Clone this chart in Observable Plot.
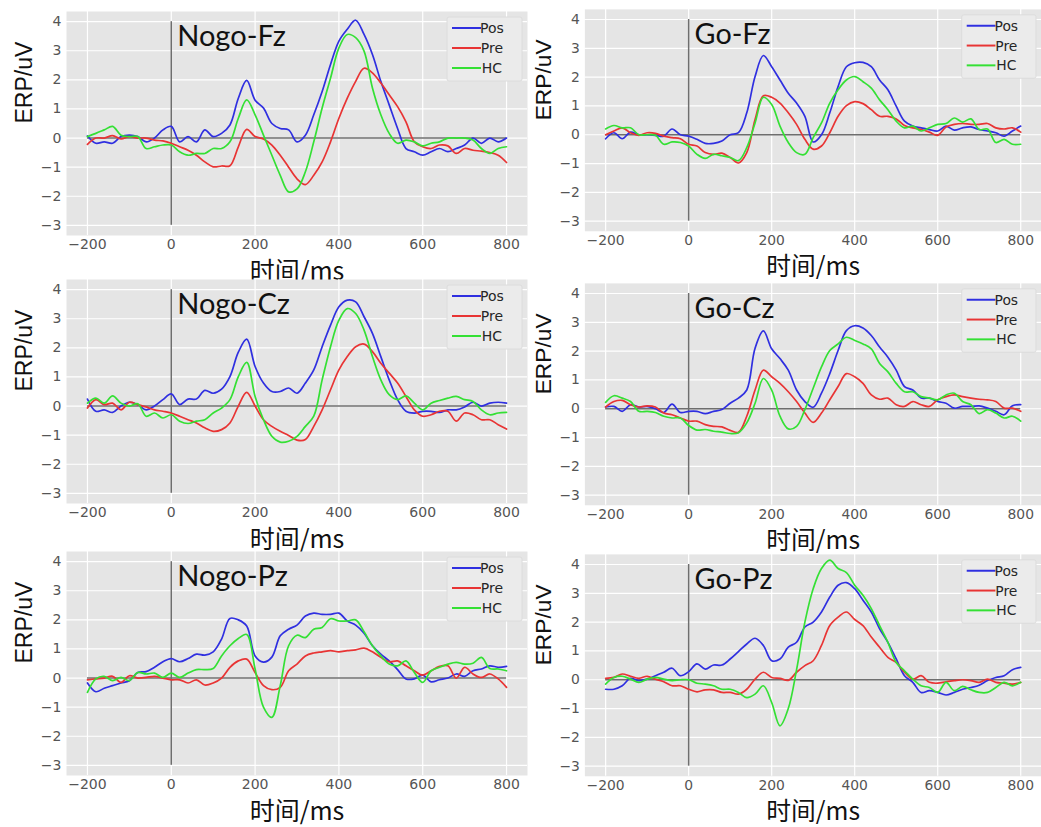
<!DOCTYPE html>
<html>
<head>
<meta charset="utf-8">
<script src="https://cdn.jsdelivr.net/npm/d3@7"></script>
<script src="https://cdn.jsdelivr.net/npm/@observablehq/plot@0.6"></script>
<style>
  html, body { margin: 0; padding: 0; background: #fff; overflow: hidden; }
  #wrap { position: relative; width: 1041px; height: 827px; overflow: hidden; }
  .panel { position: absolute; }
  .panel svg { overflow: visible; }
</style>
</head>
<body>
<div id="wrap"></div>
<script>
// ---- data ----
const times = d3.range(-200, 801, 20); // 51 samples, ms
const groups = ["Pos", "Pre", "HC"];
const colors = ["#2f2fe0", "#e83434", "#34e034"];
const xTicks = [-200, 0, 200, 400, 600, 800];
const yTicks = [-3, -2, -1, 0, 1, 2, 3, 4];
const panelTitles = ["Nogo-Fz", "Go-Fz", "Nogo-Cz", "Go-Cz", "Nogo-Pz", "Go-Pz"];
const xLabel = "时间/ms";
const yLabel = "ERP/uV";

const nogoFzPos = [0.07,-0.18,-0.13,-0.18,0.05,0.1,0.05,-0.13,0,0.28,
  0.4,-0.13,0.05,-0.13,0.28,0.05,0.16,0.45,1.37,1.98,
  1.3,1.03,0.5,0.33,0.28,-0.13,0.1,0.8,1.6,2.53,
  3.33,3.74,4.05,3.56,2.87,1.95,1.14,0.33,-0.36,-0.47,
  -0.59,-0.47,-0.36,-0.47,-0.36,-0.24,0,-0.18,0,-0.13,
  0];
const nogoFzPre = [-0.22,0,0,0.08,-0.03,0.05,0,0,-0.07,-0.1,
  -0.18,-0.3,-0.42,-0.59,-0.82,-0.99,-0.96,-0.95,-0.3,0.3,
  0.05,-0.03,-0.24,-0.59,-1.0,-1.4,-1.6,-1.28,-0.82,-0.13,
  0.68,1.37,1.95,2.4,2.24,1.89,1.49,1.08,0.56,-0.13,
  -0.3,-0.36,-0.24,-0.27,-0.53,-0.36,-0.42,-0.45,-0.5,-0.59,
  -0.84];
const nogoFzHC = [0.05,0.16,0.28,0.4,0.1,0.05,0.05,-0.36,-0.3,-0.24,
  -0.24,-0.47,-0.59,-0.53,-0.53,-0.36,-0.36,-0.13,0.68,1.31,
  0.8,0.1,-0.59,-1.28,-1.85,-1.75,-1.16,-0.13,1.03,2.06,
  3.1,3.56,3.45,2.99,1.72,0.8,0.16,-0.18,-0.07,-0.13,
  -0.27,-0.18,-0.13,0,0,0,-0.07,-0.36,-0.53,-0.36,
  -0.3];

const goFzPos = [-0.14,0.07,-0.14,0.09,0,0,-0.02,-0.05,0.2,0,
  -0.05,-0.16,-0.3,-0.3,-0.22,0,0.07,0.76,2.02,2.75,
  2.36,1.9,1.44,1.1,0.64,-0.25,0.0,0.76,1.67,2.36,
  2.5,2.51,2.36,1.9,1.56,0.99,0.47,0.3,0.24,0.18,
  0.13,0.3,0.16,0.24,0.27,0.18,0.13,0.07,-0.05,0.13,
  0.3];
const goFzPre = [0,0.13,0.24,0.07,-0.02,0.07,0.05,-0.05,-0.1,-0.14,
  -0.33,-0.39,-0.62,-0.68,-0.64,-0.79,-0.98,-0.62,0.53,1.35,
  1.3,1.1,0.76,0.36,-0.16,-0.5,-0.39,0.07,0.64,1.01,
  1.15,1.08,0.87,0.64,0.64,0.55,0.32,0.24,0.18,0.09,
  -0.02,0.27,0.36,0.39,0.36,0.36,0.39,0.24,0.2,0.24,
  0.09];
const goFzHC = [0.2,0.32,0.24,0.24,0,0,-0.02,-0.33,-0.25,-0.27,
  -0.39,-0.68,-0.82,-0.68,-0.73,-0.79,-0.9,-0.45,0.41,1.3,
  1.05,0.3,-0.27,-0.62,-0.68,-0.1,0.41,1.1,1.56,1.9,
  2.02,1.84,1.62,1.21,0.87,0.47,0.24,0.3,0.13,0.24,
  0.36,0.39,0.58,0.44,0.55,0.18,0.2,-0.27,-0.16,-0.33,
  -0.33];

const nogoCzPos = [0.24,-0.18,-0.13,-0.22,0,0.13,0.05,-0.13,0,0.22,
  0.42,0.05,0.24,0.24,0.54,0.44,0.58,1.01,1.85,2.3,
  1.36,0.79,0.5,0.5,0.62,0.44,0.79,1.24,2.04,2.78,
  3.41,3.64,3.58,3.07,2.5,1.7,0.9,0.22,-0.18,-0.24,
  -0.18,-0.18,-0.22,-0.13,-0.13,-0.03,0.13,0,0.1,0.13,
  0.1];
const nogoCzPre = [-0.07,0.22,0.05,0.1,-0.13,0.13,0.05,-0.03,-0.13,-0.18,
  -0.24,-0.35,-0.47,-0.58,-0.75,-0.87,-0.81,-0.58,0,0.47,
  0,-0.47,-0.7,-0.87,-1.01,-1.17,-1.15,-0.7,-0.13,0.56,
  1.24,1.7,2.04,2.13,1.87,1.47,1.13,0.79,0.33,-0.13,
  -0.35,-0.3,-0.18,-0.18,-0.52,-0.24,-0.3,-0.47,-0.47,-0.64,
  -0.79];
const nogoCzHC = [0.1,0.27,0.1,0.35,0.1,0,0.08,-0.35,-0.24,-0.41,
  -0.3,-0.52,-0.6,-0.52,-0.47,-0.24,-0.07,0.22,1.01,1.5,
  0.33,-0.47,-1.04,-1.24,-1.21,-1.04,-0.7,-0.35,0.9,2.04,
  2.95,3.35,3.18,2.61,1.7,0.9,0.39,0.22,0.35,0.1,
  -0.13,0.1,0.19,0.27,0.33,0.22,0.16,-0.13,-0.3,-0.24,
  -0.22];

const goCzPos = [0.06,0.08,-0.09,0.14,0.06,0.08,0,-0.13,0.16,-0.13,
  -0.09,-0.09,-0.17,-0.09,-0.03,0.19,0.37,0.65,2.1,2.7,
  2.08,1.74,1.34,0.65,0.25,0.05,0.54,1.22,2.02,2.71,
  2.88,2.8,2.54,2.14,1.79,1.34,0.77,0.65,0.37,0.37,
  0.25,0.19,0.02,0.08,0.08,0.1,0.02,-0.09,-0.21,0.1,
  0.14];
const goCzPre = [0.06,0.25,0.29,0.14,0.06,0.1,0.06,-0.15,-0.21,-0.32,
  -0.43,-0.43,-0.55,-0.61,-0.63,-0.75,-0.82,-0.26,0.65,1.34,
  1.11,0.88,0.59,0.25,-0.15,-0.47,-0.15,0.31,0.77,1.22,
  1.11,0.88,0.48,0.33,0.37,0.14,0.08,0.25,0.14,0.08,
  0.31,0.42,0.48,0.42,0.37,0.33,0.31,0.25,0.02,0.02,
  -0.09];
const goCzHC = [0.22,0.45,0.37,0.25,-0.09,-0.09,-0.13,-0.26,-0.32,-0.32,
  -0.58,-0.74,-0.72,-0.78,-0.81,-0.86,-0.83,-0.49,0.19,1.05,
  0.65,-0.26,-0.7,-0.61,-0.03,0.71,1.45,2.02,2.25,2.48,
  2.37,2.25,2.08,1.57,1.28,0.88,0.59,0.59,0.42,0.37,
  0.31,0.48,0.54,0.25,0.14,-0.17,-0.03,-0.15,-0.32,-0.26,
  -0.43];

const nogoPzPos = [-0.17,-0.47,-0.35,-0.26,-0.17,-0.09,0.19,0.22,0.37,0.56,
  0.67,0.56,0.67,0.82,0.79,0.9,1.34,2.05,2.0,1.79,
  0.76,0.55,0.72,1.45,1.68,1.82,2.13,2.23,2.19,2.19,
  2.23,1.96,1.82,1.54,1.11,0.82,0.59,0.29,-0.03,-0.03,
  0.1,-0.13,-0.06,0,0.14,0.06,0.25,0.31,0.42,0.37,
  0.4];
const nogoPzPre = [-0.06,-0.03,0,0.06,-0.15,0.08,0,0.02,0.06,0,
  -0.06,-0.06,-0.17,-0.06,-0.24,-0.17,0,0.37,0.59,0.65,
  0.19,-0.26,-0.4,-0.32,0.25,0.48,0.76,0.86,0.9,0.94,
  0.9,0.94,0.97,1.03,0.9,0.71,0.56,0.59,0.42,0.25,
  0.1,0.25,0.4,0.42,0.0,0.37,0.14,0.02,0.14,-0.03,
  -0.32];
const nogoPzHC = [-0.49,-0.03,0.06,-0.09,0.02,-0.09,0.19,0.14,0.17,0.02,
  0.17,0.02,0.17,0.29,0.29,0.33,0.76,1.11,1.36,1.5,
  0.31,-1.0,-1.35,-0.26,1.11,1.47,1.39,1.68,1.74,2.04,
  1.96,1.96,2.0,1.59,1.11,0.76,0.48,0.42,0.59,0.19,
  -0.15,0.25,0.37,0.48,0.54,0.48,0.51,0.71,0.33,0.31,
  0.25];

const goPzPos = [-0.33,-0.33,-0.21,0.05,-0.03,0.02,0.14,0.26,0.4,0.14,
  0.28,0.55,0.37,0.51,0.51,0.72,0.98,1.24,1.44,1.19,
  0.66,0.72,1.13,1.3,1.83,2.0,2.35,2.87,3.28,3.37,
  3.16,2.76,2.35,1.77,1.3,0.72,0.14,-0.09,-0.44,-0.38,
  -0.44,-0.53,-0.44,-0.33,-0.27,-0.19,-0.03,0.08,0.14,0.35,
  0.43];
const goPzPre = [0.05,0.08,0.2,0.12,0.05,0.12,0.02,-0.07,-0.21,-0.21,
  -0.33,-0.42,-0.35,-0.35,-0.44,-0.44,-0.5,-0.33,0.02,0.26,
  0.08,0.05,-0.02,0.26,0.49,0.66,1.19,1.88,2.17,2.35,
  2.09,1.88,1.48,1.13,0.78,0.6,0.26,0.02,0.14,-0.09,
  -0.12,-0.07,-0.03,0,-0.03,-0.09,0.02,-0.09,-0.12,-0.15,
  -0.09];
const goPzHC = [-0.15,0.08,0.12,0.02,-0.09,0.02,0.08,0.02,-0.03,0,
  0,-0.12,-0.15,-0.21,-0.33,-0.33,-0.44,-0.62,-0.5,-0.21,
  -0.79,-1.6,-1.0,0.35,2.0,3.16,3.86,4.15,3.86,3.72,
  3.28,2.93,2.47,1.88,1.3,0.6,0.31,0.02,-0.21,-0.27,
  -0.44,-0.09,-0.38,-0.23,-0.35,-0.44,-0.44,-0.27,-0.09,-0.21,
  -0.09];

const panelSeries = [
  [nogoFzPos, nogoFzPre, nogoFzHC],
  [goFzPos, goFzPre, goFzHC],
  [nogoCzPos, nogoCzPre, nogoCzHC],
  [goCzPos, goCzPre, goCzHC],
  [nogoPzPos, nogoPzPre, nogoPzHC],
  [goPzPos, goPzPre, goPzHC]
];

// ---- layout (page placement of each panel) ----
const panelPos = [
  {left: 0, top: 1}, {left: 519, top: -1},
  {left: 0, top: 269}, {left: 519, top: 272.5},
  {left: 0, top: 540.5}, {left: 519, top: 544}
];

function legendMark(index, scales, values, dims) {
  const right = dims.width - dims.marginRight;
  const top = dims.marginTop;
  const g = d3.create("svg:g");
  g.append("rect")
    .attr("x", right - 80).attr("y", top + 6)
    .attr("width", 75).attr("height", 64)
    .attr("rx", 2)
    .attr("fill", "#ebebeb").attr("stroke", "#dcdcdc").attr("stroke-width", 1);
  groups.forEach((name, i) => {
    const y = top + 17 + i * 20;
    g.append("line")
      .attr("x1", right - 75).attr("x2", right - 46)
      .attr("y1", y).attr("y2", y)
      .attr("stroke", colors[i]).attr("stroke-width", 2);
    g.append("text")
      .attr("x", right - 35).attr("y", y)
      .attr("dominant-baseline", "central")
      .attr("font-family", "DejaVu Sans, sans-serif")
      .attr("font-size", 14)
      .attr("fill", "#262626")
      .text(name);
  });
  return g.node();
}

function makePanel(k) {
  const data = [];
  groups.forEach((g, gi) => {
    times.forEach((t, i) => data.push({t, v: panelSeries[k][gi][i], g}));
  });
  return Plot.plot({
    width: 527,
    height: 271,
    marginLeft: 66,
    marginRight: 0,
    marginTop: 10,
    marginBottom: 37,
    style: {background: "transparent", overflow: "visible", fontFamily: "DejaVu Sans, sans-serif"},
    x: {domain: [-250, 850]},
    y: {domain: [-3.35, 4.35]},
    color: {domain: groups, range: colors},
    marks: [
      Plot.frame({fill: "#e5e5e5", stroke: null}),
      Plot.gridX(xTicks, {stroke: "#ffffff", strokeOpacity: 1, strokeWidth: 1.2}),
      Plot.gridY(yTicks, {stroke: "#ffffff", strokeOpacity: 1, strokeWidth: 1.2}),
      Plot.axisX(xTicks, {tickSize: 0, tickPadding: 4, fontSize: 14, fill: "#555", label: null}),
      Plot.axisY(yTicks, {tickSize: 0, tickPadding: 5, fontSize: 14, fill: "#555", label: null}),
      Plot.ruleY([0], {x1: xTicks[0], x2: xTicks[xTicks.length - 1], stroke: "#6e6e6e", strokeWidth: 1.5}),
      Plot.ruleX([0], {y1: yTicks[0], y2: yTicks[yTicks.length - 1], stroke: "#6e6e6e", strokeWidth: 1.5}),
      Plot.line(data, {x: "t", y: "v", z: "g", stroke: "g", curve: "catmull-rom", strokeWidth: 1.7}),
      Plot.text([{t: 0, v: yTicks[yTicks.length - 1], label: panelTitles[k]}], {
        x: "t", y: "v", text: "label", textAnchor: "start", lineAnchor: "top",
        dx: 6, dy: 4, fontSize: 29, fontFamily: "Lato, sans-serif", fill: "#111"
      }),
      legendMark,
      Plot.text([xLabel], {
        frameAnchor: "bottom", dy: 36, lineAnchor: "middle",
        fontSize: 25, fontFamily: "'Noto Sans CJK SC', sans-serif", fill: "#111"
      }),
      Plot.text([yLabel], {
        frameAnchor: "left", dx: -42, rotate: -90, lineAnchor: "middle",
        fontSize: 23, fontFamily: "'Liberation Sans', Arial, sans-serif", fill: "#111"
      })
    ]
  });
}

const wrap = document.getElementById("wrap");
panelTitles.forEach((title, k) => {
  const div = document.createElement("div");
  div.className = "panel";
  div.style.left = panelPos[k].left + "px";
  div.style.top = panelPos[k].top + "px";
  div.appendChild(makePanel(k));
  wrap.appendChild(div);
});
</script>
</body>
</html>
